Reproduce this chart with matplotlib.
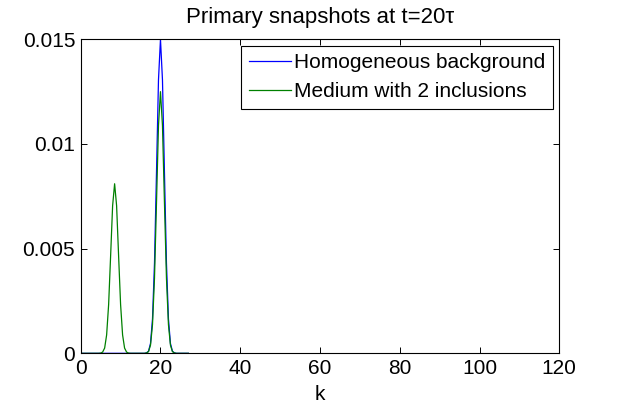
import matplotlib
matplotlib.use('Agg')
import matplotlib.pyplot as plt

plt.rcParams['font.family'] = ['Liberation Sans', 'DejaVu Sans']

# sample positions k
k = [0, 4.5, 5, 5.5, 6, 6.5, 7, 7.5, 8, 8.5, 9, 9.5, 10, 10.5, 11, 11.5, 12, 12.5,
     16, 16.5, 17, 17.5, 18, 18.5, 19, 19.5, 20, 20.5, 21, 21.5, 22, 22.5, 23, 23.5, 24, 27]

homogeneous = [0, 0, 0, 0, 0, 0, 0, 0, 0, 0, 0, 0, 0, 0, 0, 0, 0, 0,
               0, 0.00002, 0.0001, 0.00047, 0.00164, 0.00431, 0.00862, 0.01306, 0.0150,
               0.01306, 0.00862, 0.00431, 0.00164, 0.00047, 0.0001, 0.00002, 0, 0]

inclusions = [0, 0, 0.00001, 0.00006, 0.00025, 0.00088, 0.00233, 0.00466, 0.00705, 0.0081,
              0.00705, 0.00466, 0.00233, 0.00088, 0.00025, 0.00006, 0.00001, 0,
              0, 0.00002, 0.00008, 0.00039, 0.00137, 0.00359, 0.00718, 0.01088, 0.0125,
              0.01088, 0.00718, 0.00359, 0.00137, 0.00039, 0.00008, 0.00002, 0, 0]

fig = plt.figure(figsize=(6.18, 4.07), dpi=100)
ax = fig.add_axes([0.1306, 0.1319, 0.7744, 0.7715])

ax.plot(k, homogeneous, color='#0000ff', lw=0.9, label='Homogeneous background')
ax.plot(k, inclusions, color='#008000', lw=0.9, label='Medium with 2 inclusions')

ax.set_xlim(0, 120)
ax.set_ylim(0, 0.015)
ax.set_xticks([0, 20, 40, 60, 80, 100, 120])
ax.set_yticks([0, 0.005, 0.01, 0.015])
ax.set_yticklabels(['0', '0.005', '0.01', '0.015'])
ax.tick_params(direction='in', length=4, width=0.7, top=True, right=True,
               labelsize=15, pad=4)
for s in ax.spines.values():
    s.set_linewidth(0.8)

ax.set_xlabel('k', fontsize=15, labelpad=5)
ax.set_title('Primary snapshots at t=20τ', fontsize=16, pad=12)

leg = ax.legend(loc='upper right', fontsize=15, fancybox=False, framealpha=1,
                edgecolor='black', borderpad=0.35, handlelength=2.05,
                handletextpad=0.15, labelspacing=0.5, borderaxespad=0.3)
leg.get_frame().set_linewidth(0.8)

fig.savefig('out.png', dpi=100)
